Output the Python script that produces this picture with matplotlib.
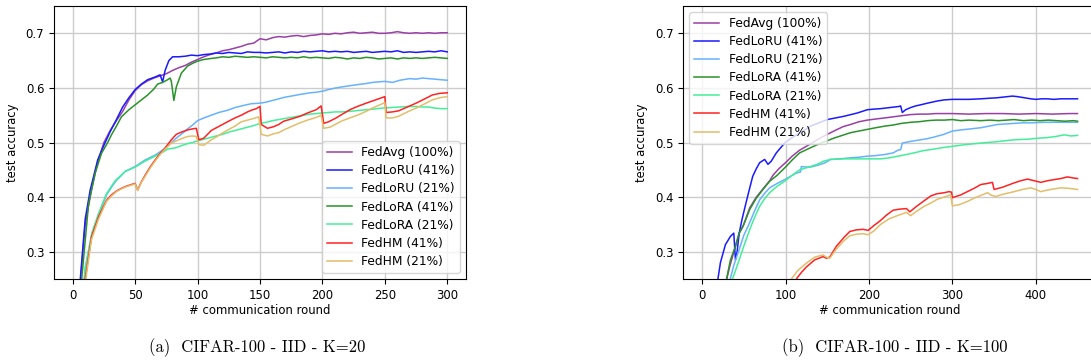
import matplotlib
matplotlib.use("Agg")
import matplotlib.pyplot as plt

# ---------------- data: (a) CIFAR-100 - IID - K=20 ----------------
labels = ["FedAvg (100%)", "FedLoRU (41%)", "FedLoRU (21%)", "FedLoRA (41%)",
          "FedLoRA (21%)", "FedHM (41%)", "FedHM (21%)"]
colors = ["#9a3fa6", "#1a1aff", "#66b2ff", "#2a922a", "#44ee99", "#ff2222", "#e3bd6a"]

a_avg_x = [6, 10, 15, 20, 25, 30, 35, 40, 45, 50, 55, 60, 65, 70, 75, 80, 85, 90, 95, 100,
           105, 110, 115, 120, 125, 130, 135, 140, 145, 150, 155, 160, 165, 170, 175, 180,
           185, 190, 195, 200, 205, 210, 215, 220, 225, 230, 235, 240, 245, 250, 255, 260,
           265, 270, 275, 280, 285, 290, 295, 300]
a_avg_y = [0.24, 0.35, 0.413, 0.465, 0.50, 0.522, 0.54, 0.557, 0.578, 0.595, 0.606, 0.613,
           0.618, 0.622, 0.626, 0.632, 0.637, 0.641, 0.647, 0.652, 0.657, 0.661, 0.664, 0.668,
           0.670, 0.673, 0.676, 0.680, 0.682, 0.690, 0.688, 0.692, 0.694, 0.693, 0.695, 0.696,
           0.694, 0.696, 0.697, 0.699, 0.698, 0.700, 0.699, 0.701, 0.702, 0.700, 0.701, 0.702,
           0.700, 0.700, 0.701, 0.703, 0.701, 0.700, 0.701, 0.700, 0.701, 0.700, 0.701, 0.701]

a_lru41_x = [5, 10, 14, 20, 25, 30, 35, 40, 45, 50, 55, 60, 66, 70, 72, 74, 77, 80, 85, 90,
             95, 100, 105, 110, 115, 120, 125, 130, 135, 140, 145, 150, 155, 160, 165, 170,
             175, 180, 185, 190, 195, 200, 205, 210, 215, 220, 225, 230, 235, 240, 245, 250,
             255, 260, 265, 270, 275, 280, 285, 290, 295, 300]
a_lru41_y = [0.22, 0.36, 0.413, 0.468, 0.495, 0.52, 0.542, 0.565, 0.582, 0.597, 0.607, 0.615,
             0.620, 0.624, 0.611, 0.632, 0.650, 0.657, 0.657, 0.658, 0.660, 0.659, 0.661, 0.662,
             0.664, 0.663, 0.665, 0.664, 0.663, 0.666, 0.665, 0.665, 0.664, 0.665, 0.666, 0.664,
             0.666, 0.665, 0.667, 0.666, 0.667, 0.668, 0.666, 0.667, 0.666, 0.667, 0.665, 0.666,
             0.667, 0.665, 0.666, 0.667, 0.666, 0.668, 0.665, 0.666, 0.665, 0.666, 0.667, 0.666,
             0.668, 0.666]

a_lru21_x = [8, 10, 15.4, 20.7, 27, 34, 42, 50, 58, 66, 72, 76, 80, 84, 88, 92, 96, 100, 105,
             111, 117, 124, 130, 137, 143, 150, 155, 160, 165, 170, 175, 182, 190, 195, 200,
             205, 211, 216, 222, 228, 235, 240, 245, 250, 256, 262, 270, 275, 280, 285, 290,
             295, 300]
a_lru21_y = [0.22, 0.27, 0.333, 0.367, 0.404, 0.428, 0.447, 0.456, 0.468, 0.477, 0.486, 0.493,
             0.502, 0.510, 0.517, 0.525, 0.532, 0.540, 0.545, 0.550, 0.555, 0.559, 0.564, 0.568,
             0.571, 0.572, 0.574, 0.577, 0.580, 0.583, 0.585, 0.588, 0.591, 0.592, 0.594, 0.597,
             0.600, 0.602, 0.604, 0.606, 0.608, 0.610, 0.611, 0.612, 0.610, 0.614, 0.617, 0.616,
             0.618, 0.617, 0.616, 0.615, 0.614]

a_lra41_x = [6, 12.7, 18, 23, 28, 31, 35, 39, 45, 50, 55, 60, 65, 68, 72, 76, 78, 79, 81, 83,
             87, 92, 96, 100, 105, 111, 115, 120, 125, 130, 135, 140, 145, 150, 155, 160, 165,
             170, 175, 180, 185, 190, 195, 200, 205, 210, 215, 220, 225, 230, 235, 240, 245,
             250, 255, 260, 265, 270, 275, 280, 285, 290, 295, 300]
a_lra41_y = [0.22, 0.388, 0.444, 0.48, 0.50, 0.514, 0.53, 0.547, 0.56, 0.569, 0.578, 0.587,
             0.598, 0.607, 0.610, 0.615, 0.618, 0.612, 0.577, 0.602, 0.627, 0.640, 0.645, 0.649,
             0.652, 0.654, 0.655, 0.657, 0.656, 0.658, 0.657, 0.656, 0.657, 0.656, 0.655, 0.657,
             0.656, 0.655, 0.656, 0.655, 0.657, 0.655, 0.656, 0.655, 0.654, 0.656, 0.655, 0.653,
             0.655, 0.654, 0.656, 0.655, 0.653, 0.654, 0.655, 0.653, 0.655, 0.654, 0.655, 0.654,
             0.655, 0.656, 0.655, 0.654]

a_lra21_x = [8.5, 10, 15.4, 20.7, 27, 34, 42, 50, 58, 66, 72, 76, 82, 88, 92, 96, 100, 105,
             110, 115, 120, 125, 130, 135, 140, 145, 150, 155, 160, 165, 170, 175, 180, 185,
             190, 195, 200, 205, 210, 215, 222, 230, 235, 240, 248, 255, 262, 268, 275, 280,
             285, 290, 295, 300]
a_lra21_y = [0.22, 0.27, 0.335, 0.37, 0.406, 0.43, 0.447, 0.455, 0.466, 0.475, 0.482, 0.488,
             0.490, 0.495, 0.498, 0.500, 0.503, 0.506, 0.509, 0.512, 0.515, 0.519, 0.522, 0.525,
             0.528, 0.531, 0.535, 0.537, 0.540, 0.542, 0.544, 0.546, 0.548, 0.550, 0.552, 0.553,
             0.554, 0.555, 0.556, 0.556, 0.557, 0.559, 0.560, 0.561, 0.563, 0.564, 0.565, 0.566,
             0.566, 0.565, 0.565, 0.563, 0.562, 0.562]

a_hm41_x = [9, 10, 15, 20.7, 27, 31, 35, 39, 43, 47, 50, 52, 55, 58, 62, 66, 70, 74, 79, 83,
            87, 92, 96, 99, 101, 105, 108, 111, 115, 120, 124, 130, 135, 140, 143, 147, 150,
            151, 156, 161, 165, 169, 175, 182, 188, 195, 199, 201, 205, 211, 216, 222, 228,
            235, 240, 245, 250, 251, 256, 261, 268, 275, 282, 288, 294, 300]
a_hm41_y = [0.22, 0.25, 0.327, 0.364, 0.394, 0.404, 0.411, 0.416, 0.420, 0.423, 0.425, 0.413,
            0.428, 0.440, 0.455, 0.468, 0.480, 0.490, 0.505, 0.515, 0.519, 0.523, 0.525, 0.526,
            0.505, 0.508, 0.515, 0.522, 0.527, 0.533, 0.538, 0.545, 0.550, 0.556, 0.559, 0.562,
            0.566, 0.533, 0.526, 0.529, 0.533, 0.539, 0.543, 0.548, 0.554, 0.560, 0.567, 0.535,
            0.538, 0.545, 0.552, 0.560, 0.566, 0.572, 0.576, 0.580, 0.584, 0.555, 0.556, 0.558,
            0.565, 0.572, 0.580, 0.587, 0.590, 0.591]

a_hm21_x = [9.5, 10.5, 15, 20.7, 27, 31, 35, 39, 43, 47, 50, 52, 55, 58, 62, 66, 70, 74, 79,
            83, 87, 92, 96, 99, 101, 105, 111, 115, 119, 125, 130, 135, 140, 145, 149, 151,
            156, 161, 165, 169, 175, 182, 188, 195, 199, 201, 206, 211, 216, 222, 228, 235,
            240, 245, 250, 251, 256, 261, 268, 275, 282, 288, 294, 300]
a_hm21_y = [0.22, 0.25, 0.322, 0.36, 0.392, 0.402, 0.410, 0.415, 0.419, 0.422, 0.424, 0.412,
            0.427, 0.438, 0.453, 0.466, 0.478, 0.488, 0.499, 0.503, 0.507, 0.511, 0.512, 0.511,
            0.496, 0.495, 0.505, 0.510, 0.516, 0.524, 0.530, 0.538, 0.541, 0.544, 0.547, 0.515,
            0.512, 0.516, 0.518, 0.523, 0.529, 0.536, 0.541, 0.546, 0.550, 0.526, 0.528, 0.534,
            0.540, 0.545, 0.550, 0.557, 0.563, 0.568, 0.573, 0.545, 0.545, 0.548, 0.556, 0.563,
            0.571, 0.578, 0.582, 0.584]

# ---------------- data: (b) CIFAR-100 - IID - K=100 ----------------
b_avg_x = [28, 33, 40, 44.5, 49, 57, 65, 73, 81, 85, 92, 100, 108, 117, 125, 138, 145, 158,
           169, 178, 188, 198, 208, 219, 229, 239, 249, 260, 270, 280, 300, 320, 340, 360,
           380, 400, 420, 440, 450]
b_avg_y = [0.24, 0.272, 0.31, 0.334, 0.346, 0.38, 0.40, 0.415, 0.43, 0.44, 0.452, 0.463,
           0.475, 0.486, 0.493, 0.505, 0.511, 0.521, 0.529, 0.533, 0.538, 0.541, 0.543, 0.545,
           0.547, 0.549, 0.551, 0.552, 0.552, 0.553, 0.553, 0.552, 0.553, 0.553, 0.552, 0.553,
           0.552, 0.553, 0.553]

b_lru41_x = [18, 22, 28, 34, 38, 40, 42, 44.5, 48, 52.6, 56, 60.7, 65, 69, 75, 79, 83, 89,
             94, 99, 106, 113, 120, 130, 140, 150, 160, 170, 178, 186, 192, 198, 205, 214, 225,
             236, 238, 240, 244, 250, 256, 262, 270, 276, 282, 290, 300, 310, 320, 334, 344,
             354, 366, 372, 378, 386, 394, 400, 407, 414, 422, 430, 440, 450]
b_lru41_y = [0.24, 0.28, 0.313, 0.328, 0.334, 0.285, 0.30, 0.334, 0.36, 0.389, 0.41, 0.438,
             0.452, 0.463, 0.469, 0.460, 0.466, 0.481, 0.49, 0.499, 0.507, 0.514, 0.520, 0.530,
             0.536, 0.542, 0.545, 0.548, 0.551, 0.554, 0.557, 0.560, 0.561, 0.562, 0.564, 0.566,
             0.567, 0.555, 0.560, 0.564, 0.567, 0.569, 0.572, 0.574, 0.576, 0.578, 0.579, 0.579,
             0.579, 0.580, 0.581, 0.582, 0.584, 0.585, 0.584, 0.582, 0.580, 0.579, 0.580, 0.580,
             0.579, 0.580, 0.580, 0.580]

b_lru21_x = [32, 38, 44.5, 50, 57, 63, 69, 75, 81, 90, 99, 106, 113, 118, 119, 125, 130, 138,
             146, 150, 154, 165, 178, 188, 198, 208, 219, 229, 235, 238, 240, 250, 262, 270,
             278, 290, 300, 310, 322, 334, 344, 354, 364, 374, 384, 394, 410, 430, 450]
b_lru21_y = [0.24, 0.275, 0.304, 0.33, 0.353, 0.375, 0.395, 0.407, 0.417, 0.425, 0.432, 0.438,
             0.444, 0.446, 0.456, 0.455, 0.455, 0.458, 0.462, 0.465, 0.469, 0.470, 0.472, 0.473,
             0.475, 0.476, 0.478, 0.481, 0.486, 0.487, 0.499, 0.502, 0.505, 0.507, 0.510, 0.515,
             0.521, 0.523, 0.525, 0.527, 0.530, 0.533, 0.534, 0.535, 0.536, 0.536, 0.537, 0.537,
             0.537]

b_lra41_x = [28, 34, 40, 44.5, 50, 57, 65, 73, 81, 90, 100, 108, 117, 128, 138, 148, 158, 168,
             178, 188, 198, 208, 219, 229, 239, 250, 260, 270, 280, 290, 300, 310, 320, 334,
             345, 355, 365, 374, 385, 395, 405, 415, 425, 435, 445, 450]
b_lra41_y = [0.24, 0.285, 0.31, 0.334, 0.35, 0.377, 0.398, 0.414, 0.429, 0.44, 0.455, 0.468,
             0.481, 0.489, 0.496, 0.502, 0.508, 0.513, 0.518, 0.521, 0.524, 0.527, 0.530, 0.532,
             0.535, 0.537, 0.538, 0.540, 0.541, 0.541, 0.542, 0.540, 0.541, 0.540, 0.541, 0.540,
             0.541, 0.542, 0.540, 0.541, 0.540, 0.541, 0.540, 0.539, 0.540, 0.539]

b_lra21_x = [34, 40, 44.5, 50, 57, 63, 69, 75, 81, 90, 99, 108, 117, 130, 138, 146, 154, 170,
             185, 200, 214, 225, 235, 245, 254, 265, 278, 290, 300, 315, 334, 350, 362, 374,
             390, 404, 414, 424, 434, 442, 450]
b_lra21_y = [0.24, 0.265, 0.285, 0.31, 0.34, 0.363, 0.383, 0.397, 0.408, 0.42, 0.429, 0.44,
             0.45, 0.456, 0.46, 0.466, 0.469, 0.470, 0.470, 0.470, 0.470, 0.472, 0.475, 0.478,
             0.481, 0.485, 0.488, 0.491, 0.493, 0.496, 0.499, 0.501, 0.503, 0.505, 0.506, 0.508,
             0.509, 0.511, 0.514, 0.512, 0.513]

b_hm41_x = [110, 113, 119, 125, 135, 145, 149, 153, 161, 170, 177, 185, 193, 199, 206, 213,
            221, 229, 237, 245, 249, 257, 265, 274, 281, 290, 296, 299, 300, 310, 318, 326,
            334, 342, 348, 350, 360, 374, 382, 390, 398, 406, 414, 422, 430, 438, 445, 450]
b_hm41_y = [0.24, 0.25, 0.262, 0.272, 0.285, 0.291, 0.288, 0.290, 0.31, 0.326, 0.337, 0.34,
            0.341, 0.339, 0.348, 0.356, 0.367, 0.376, 0.378, 0.379, 0.373, 0.383, 0.392, 0.402,
            0.406, 0.408, 0.410, 0.409, 0.399, 0.404, 0.410, 0.416, 0.423, 0.425, 0.427, 0.414,
            0.418, 0.426, 0.430, 0.433, 0.430, 0.427, 0.430, 0.432, 0.434, 0.437, 0.435, 0.434]

b_hm21_x = [105, 107, 115, 125, 135, 145, 149, 153, 161, 170, 177, 185, 193, 199, 206, 214,
            224, 234, 245, 250, 258, 266, 274, 282, 290, 298, 300, 308, 318, 326, 334, 342,
            346, 352, 360, 374, 384, 394, 400, 406, 414, 422, 430, 440, 450]
b_hm21_y = [0.24, 0.25, 0.266, 0.279, 0.29, 0.294, 0.29, 0.288, 0.305, 0.32, 0.329, 0.332,
            0.333, 0.331, 0.338, 0.350, 0.360, 0.366, 0.372, 0.366, 0.375, 0.383, 0.389, 0.396,
            0.400, 0.404, 0.384, 0.386, 0.392, 0.398, 0.403, 0.408, 0.404, 0.401, 0.405, 0.410,
            0.414, 0.417, 0.414, 0.410, 0.413, 0.415, 0.417, 0.416, 0.414]

series_a = [(a_avg_x, a_avg_y), (a_lru41_x, a_lru41_y), (a_lru21_x, a_lru21_y),
            (a_lra41_x, a_lra41_y), (a_lra21_x, a_lra21_y), (a_hm41_x, a_hm41_y),
            (a_hm21_x, a_hm21_y)]
series_b = [(b_avg_x, b_avg_y), (b_lru41_x, b_lru41_y), (b_lru21_x, b_lru21_y),
            (b_lra41_x, b_lra41_y), (b_lra21_x, b_lra21_y), (b_hm41_x, b_hm41_y),
            (b_hm21_x, b_hm21_y)]

xticks_a = [0, 50, 100, 150, 200, 250, 300]
xticks_b = [0, 100, 200, 300, 400]
yticks = [0.3, 0.4, 0.5, 0.6, 0.7]

# ---------------- figure ----------------
W, H = 1091, 364
fig = plt.figure(figsize=(W / 100, H / 100), dpi=100)
FS = 8.4
LFS = 8.8

def make_axes(rect, series, xticks, xlim, legend_loc):
    ax = fig.add_axes(rect)
    for (xs, ys), c, lab in zip(series, colors, labels):
        ax.plot(xs, ys, color=c, lw=1.1, label=lab)
    ax.set_xlim(*xlim)
    ax.set_ylim(0.25, 0.75)
    ax.set_xticks(xticks)
    ax.set_yticks(yticks)
    ax.set_yticklabels([f"{t:.1f}" for t in yticks])
    ax.grid(True, color="#cccccc", lw=1.0)
    ax.set_axisbelow(True)
    ax.tick_params(labelsize=FS, length=3.5)
    ax.set_xlabel("# communication round", fontsize=FS, labelpad=2)
    ax.set_ylabel("test accuracy", fontsize=FS, labelpad=5)
    ax.legend(loc=legend_loc, fontsize=LFS, handlelength=2.0, borderpad=0.4,
              labelspacing=0.42, handletextpad=0.8)
    return ax

make_axes([54 / W, 1 - 279 / H, 412 / W, 273 / H], series_a, xticks_a, (-15, 315),
          "lower right")
make_axes([683.3 / W, 1 - 279 / H, 413 / W, 273 / H], series_b, xticks_b, (-22.5, 472.5),
          "upper left")

fig.text(257 / W, 1 - 348 / H, "(a)  CIFAR-100 - IID - K=20", family="cmr10",
         fontsize=12, ha="center", va="center")
fig.text(895 / W, 1 - 348 / H, "(b)  CIFAR-100 - IID - K=100", family="cmr10",
         fontsize=12, ha="center", va="center")

fig.savefig("out.png", dpi=100)
